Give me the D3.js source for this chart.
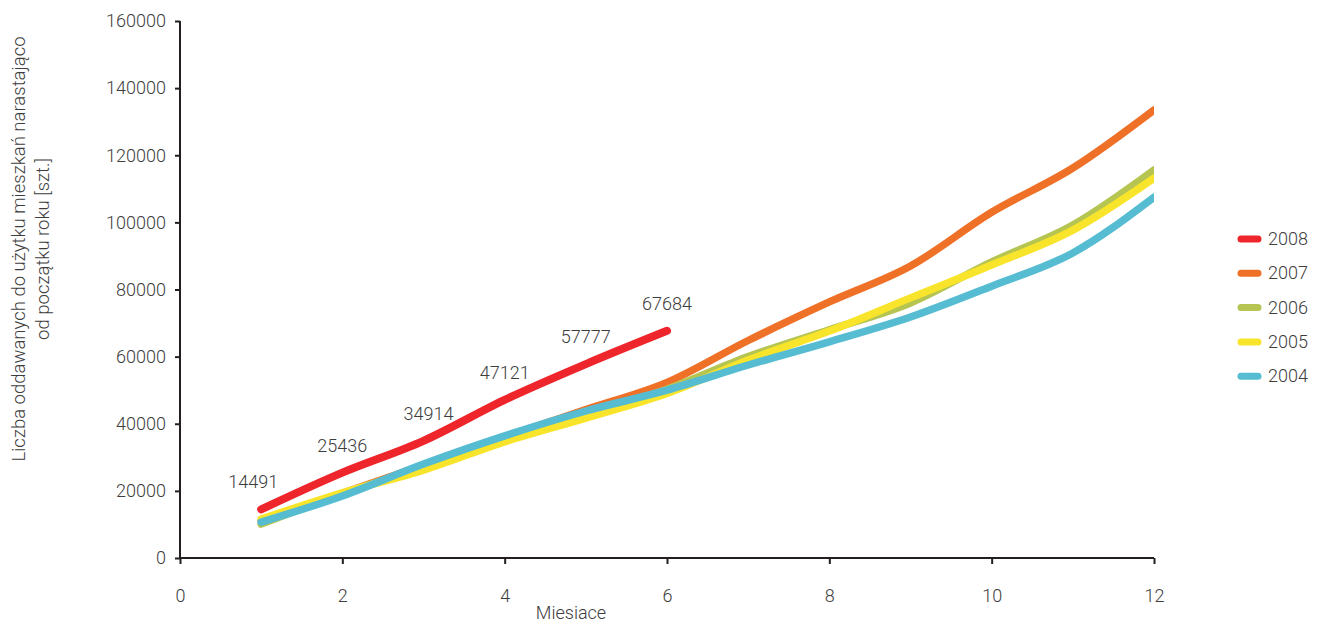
<!DOCTYPE html>
<html><head><meta charset="utf-8">
<script src="https://cdn.jsdelivr.net/npm/d3@7"></script>
<style>body{margin:0;background:#fff}svg{display:block}text{font-family:Roboto,sans-serif;font-weight:300;fill:#3d3d3d}</style>
</head><body>
<script>
const months = [1,2,3,4,5,6,7,8,9,10,11,12];
const years = ["2008","2007","2006","2005","2004"];
const colors = {"2008":"#ee262c","2007":"#ef7027","2006":"#b6c551","2005":"#f8e52b","2004":"#55bcd1"};
const s2008 = [14491,25436,34914,47121,57777,67684];
const s2007 = [11000,19300,27600,36000,44200,52300,64800,76300,87000,103000,116200,133500];
const s2006 = [10100,19100,27100,35200,42600,50300,60000,68000,76000,88200,99200,115600];
const s2005 = [11600,19400,26200,34600,41700,49000,59000,67600,77500,87300,97700,113200];
const s2004 = [10700,18500,28000,36400,43800,50000,57500,64400,71800,81000,90900,107500];
const xTicks = [0,2,4,6,8,10,12];
const yTicks = [0,20000,40000,60000,80000,100000,120000,140000,160000];
const seriesMap = {"2008":s2008,"2007":s2007,"2006":s2006,"2005":s2005,"2004":s2004};

const W=1319,H=624;
const svg=d3.select("body").append("svg").attr("width",W).attr("height",H);
const x=d3.scaleLinear().domain([0,12]).range([180,1154]);
const y=d3.scaleLinear().domain([0,160000]).range([558,21]);

svg.append("defs").append("clipPath").attr("id","clip").append("rect")
  .attr("x",180).attr("y",0).attr("width",974).attr("height",600);

const line=d3.line().x((d,i)=>x(months[i])).y(d=>y(d)).curve(d3.curveMonotoneX);
const g=svg.append("g").attr("clip-path","url(#clip)");
["2007","2006","2005","2004","2008"].forEach(k=>{
  g.append("path").attr("d",line(seriesMap[k])).attr("fill","none")
   .attr("stroke",colors[k]).attr("stroke-width",k==="2008"?8:7.5)
   .attr("stroke-linecap","round").attr("stroke-linejoin","round");
});

// labels for 2008
s2008.forEach((v,i)=>{
  svg.append("text").attr("x",x(months[i])-(i===0?8:(i===2?-5:0))).attr("y",y(v)-21)
   .attr("text-anchor","middle").style("font-size","18px").text(v);
});

// axes
const ya=svg.append("g").attr("transform","translate(180,0)")
  .call(d3.axisLeft(y).tickValues(yTicks).tickSize(5).tickPadding(9).tickFormat(d=>d));
const xa=svg.append("g").attr("transform","translate(0,558)")
  .call(d3.axisBottom(x).tickValues(xTicks).tickSize(6).tickPadding(25).tickFormat(d=>d));
[ya,xa].forEach(a=>{
  a.select(".domain").attr("stroke","#231f20").attr("stroke-width",2);
  a.selectAll(".tick line").attr("stroke","#231f20").attr("stroke-width",2);
  a.selectAll(".tick text").style("font-size","18px").style("font-family","Roboto,sans-serif").style("font-weight",300).attr("fill","#3d3d3d");
});
ya.select(".domain").attr("d","M0,558V21");
xa.select(".domain").attr("d","M180,0H1154");

svg.append("text").attr("x",571).attr("y",619).attr("text-anchor","middle").style("font-size","18px").text("Miesiace");
const yl=svg.append("text").attr("transform","translate(25,249) rotate(-90)").attr("text-anchor","middle").style("font-size","18.5px");
yl.append("tspan").attr("x",0).attr("dy",0).text("Liczba oddawanych do użytku mieszkań narastająco");
yl.append("tspan").attr("x",0).attr("dy",24).text("od początku roku [szt.]");

// legend
years.forEach((k,i)=>{
  const cy=239+i*34.3;
  svg.append("line").attr("x1",1241).attr("x2",1258).attr("y1",cy).attr("y2",cy)
   .attr("stroke",colors[k]).attr("stroke-width",7).attr("stroke-linecap","round");
  svg.append("text").attr("x",1268).attr("y",cy+6).style("font-size","18px").text(k);
});
</script>
</body></html>
